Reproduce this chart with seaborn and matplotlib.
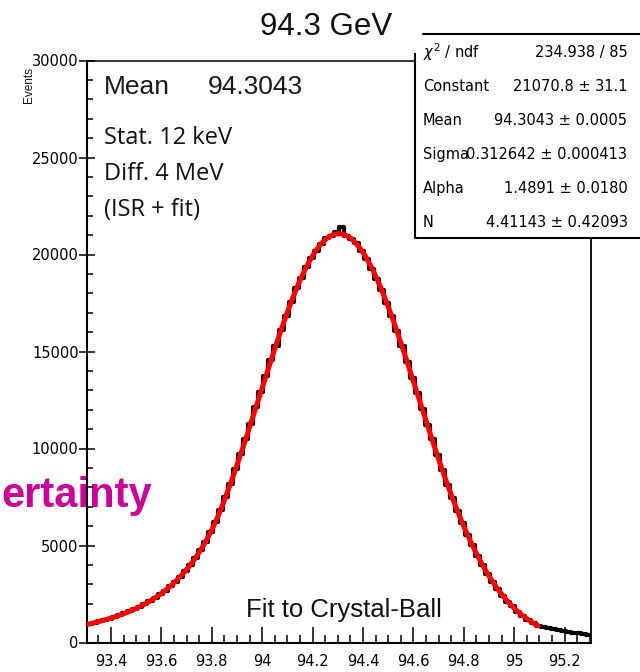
import numpy as np
import pandas as pd
import matplotlib
matplotlib.use("Agg")
import matplotlib.pyplot as plt
from matplotlib.lines import Line2D
from matplotlib.ticker import FixedLocator, MultipleLocator
import seaborn as sns

# ---------------------------------------------------------------------------
# Data: reconstructed dimuon energy, 20 MeV bins starting at 93.305 GeV
# ---------------------------------------------------------------------------
bin_start = 93.305
bin_width = 0.02
events = [
    963, 1024, 1089, 1148, 1237, 1320, 1409, 1521, 1613, 1728,
    1853, 1990, 2158, 2302, 2481, 2677, 2892, 3130, 3370, 3680,
    3999, 4353, 4772, 5184, 5673, 6219, 6831, 7503, 8170, 8943,
    9705, 10488, 11288, 12150, 12916, 13732, 14540, 15290, 16102, 16841,
    17542, 18250, 18800, 19344, 19822, 20180, 20559, 20870, 20979, 21180,
    21400, 20970, 20796, 20580, 20203, 19791, 19260, 18760, 18153, 17494,
    16840, 16049, 15278, 14484, 13630, 12860, 12043, 11232, 10480, 9651,
    8892, 8120, 7455, 6785, 6149, 5550, 5020, 4467, 3983, 3537,
    3105, 2755, 2416, 2111, 1860, 1591, 1373, 1180, 995, 861,
    800, 745, 695, 650, 605, 560, 515, 470, 430, 390,
]

# Crystal-Ball fit result
fit_constant = 21070.8
fit_mean = 94.3043
fit_sigma = 0.312642
fit_alpha = 1.4891
fit_n = 4.41143
fit_lo, fit_hi = 93.305, 95.095

stat_names = [r"$\chi^{2}$ / ndf", "Constant", "Mean", "Sigma", "Alpha", "N"]
stat_values = ["234.938 / 85", "21070.8 \u00b1 31.1", "94.3043 \u00b1 0.0005",
               "0.312642 \u00b1 0.000413", "1.4891 \u00b1 0.0180",
               "4.41143 \u00b1 0.42093"]

xtick_vals = [93.4, 93.6, 93.8, 94.0, 94.2, 94.4, 94.6, 94.8, 95.0, 95.2]
xtick_labels = ["93.4", "93.6", "93.8", "94", "94.2", "94.4", "94.6",
                "94.8", "95", "95.2"]
ytick_vals = [0, 5000, 10000, 15000, 20000, 25000, 30000]
ytick_labels = ["0", "5000", "10000", "15000", "20000", "25000", "30000"]


def crystal_ball(x, const, mean, sigma, alpha, n):
    t = (x - mean) / sigma
    a = abs(alpha)
    A = (n / a) ** n * np.exp(-a * a / 2.0)
    B = n / a - a
    core = np.exp(-t * t / 2.0)
    tail = A * np.clip(B - t, 1e-9, None) ** (-n)
    return const * np.where(t > -a, core, tail)


# ---------------------------------------------------------------------------
sns.set_style("white")
plt.rcParams["font.family"] = ["Liberation Sans", "DejaVu Sans"]
plt.rcParams["mathtext.fontset"] = "dejavusans"

W, H = 640, 672
fig = plt.figure(figsize=(W / 100, H / 100), dpi=100, facecolor="white")


def fx(px):
    return px / W


def fy(py):
    return 1 - py / H


ax = fig.add_axes([fx(87), fy(642.5), (591 - 87) / W, (642.5 - 60.5) / H])
ax.set_facecolor("none")

n_bins = len(events)
bin_stop = bin_start + bin_width * n_bins
centers = bin_start + bin_width * (np.arange(n_bins) + 0.5)
hist_df = pd.DataFrame({"energy": centers, "events": events})
sns.histplot(data=hist_df, x="energy", weights="events", bins=n_bins,
             binrange=(bin_start, bin_stop), element="step", fill=False,
             color="black", linewidth=3.0, ax=ax)

xfit = np.linspace(fit_lo, fit_hi, 800)
fit_df = pd.DataFrame({"energy": xfit,
                       "fit": crystal_ball(xfit, fit_constant, fit_mean,
                                           fit_sigma, fit_alpha, fit_n)})
sns.lineplot(data=fit_df, x="energy", y="fit", color="#ff0000",
             linewidth=3.6, estimator=None, ax=ax, zorder=3)

ax.set_xlim(bin_start, bin_stop)
ax.set_ylim(0, 30000)
ax.set_xlabel("")
ax.set_ylabel("")

ax.xaxis.set_major_locator(FixedLocator(xtick_vals))
ax.set_xticklabels(xtick_labels)
ax.xaxis.set_minor_locator(MultipleLocator(0.05))
ax.yaxis.set_major_locator(FixedLocator(ytick_vals))
ax.set_yticklabels(ytick_labels)
ax.yaxis.set_minor_locator(MultipleLocator(1000))

for lab in ax.get_xticklabels() + ax.get_yticklabels():
    lab.set_fontfamily("DejaVu Sans")
    lab.set_fontsize(10.5)

ax.tick_params(axis="x", which="major", direction="in", length=11.5,
               width=1.1, pad=8.5, colors="black", bottom=True, top=False)
ax.tick_params(axis="x", which="minor", direction="in", length=5.5,
               width=1.1, colors="black", bottom=True, top=False)
ax.tick_params(axis="y", which="major", direction="inout", length=11,
               width=1.1, pad=0.5, colors="black", left=True, right=False)
ax.tick_params(axis="y", which="minor", direction="in", length=4.5,
               width=1.1, colors="black", left=True, right=False)

for side, lw in [("left", 1.5), ("bottom", 1.5), ("top", 1.1), ("right", 1.3)]:
    ax.spines[side].set_visible(True)
    ax.spines[side].set_color("black")
    ax.spines[side].set_linewidth(lw)

# Title and annotations
fig.text(fx(326), fy(35), "94.3 GeV", ha="center", va="baseline",
         fontsize=22.5, color="#111111")
fig.text(fx(104), fy(93.5), "Mean", ha="left", va="baseline",
         fontsize=19, color="#1a1a1a")
fig.text(fx(208), fy(93.5), "94.3043", ha="left", va="baseline",
         fontsize=19, color="#1a1a1a")
for ypx, line in [(144, "Stat. 12 keV"), (180, "Diff. 4 MeV"),
                  (216.5, "(ISR + fit)")]:
    fig.text(fx(104), fy(ypx), line, ha="left", va="baseline",
             fontsize=17, family=["Open Sans", "DejaVu Sans"],
             color="#111111")
fig.text(fx(246), fy(616.5), "Fit to Crystal-Ball", ha="left",
         va="baseline", fontsize=18.5, color="#111111")
fig.text(fx(152), fy(507), "ertainty", ha="right", va="baseline",
         fontsize=30, fontweight="bold", color="#cc0099", zorder=-1)
fig.text(fx(29), fy(85), "Events", rotation=90, ha="center", va="center",
         fontsize=8.5, color="#111111")

# Statistics box
bx0, bx1, by0, by1 = 415, 640, 34, 238
box = fig.add_axes([fx(bx0), fy(by1), (bx1 - bx0) / W, (by1 - by0) / H])
box.set_facecolor("white")
box.set_xlim(0, 1)
box.set_ylim(0, 1)
for s in box.spines.values():
    s.set_visible(False)
box.set_xticks([])
box.set_yticks([])
bw, bh = bx1 - bx0, by1 - by0
box.add_line(Line2D([0, 0], [0, (by1 - 53) / bh], color="black", lw=1.5,
                    clip_on=False, solid_capstyle="butt"))
box.add_line(Line2D([0, 1], [0, 0], color="black", lw=1.5, clip_on=False))
box.add_line(Line2D([(423 - bx0) / bw, 1], [1, 1], color="black", lw=1.5,
                    clip_on=False))

for i, (name, val) in enumerate(zip(stat_names, stat_values)):
    ypx = 52.5 + 34 * i
    fig.text(fx(423), fy(ypx), name, ha="left", va="center",
             fontsize=10.5, family="DejaVu Sans", color="black")
    fig.text(fx(627.5), fy(ypx), val, ha="right", va="center",
             fontsize=10.5, family="DejaVu Sans", color="black")

fig.savefig("out.png", dpi=100, facecolor="white")
